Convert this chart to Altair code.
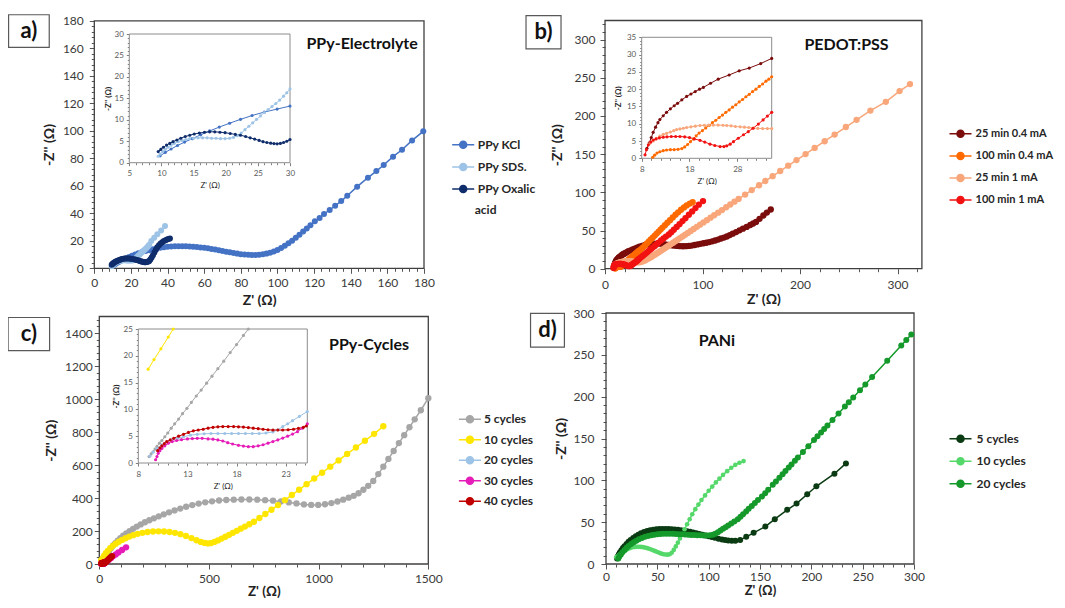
import altair as alt
import pandas as pd

# ---------------------------------------------------------------- data
# every list holds (Z', -Z'') pairs in ohm

# a) PPy-Electrolyte
PPY_KCL = [(9.8, 1.6), (10.6, 2.4), (11.5, 3.2), (12.5, 4.0), (13.6, 4.8), (14.8, 5.6), (16.1, 6.5),
           (17.5, 7.4), (19.0, 8.3), (20.6, 9.2), (22.3, 10.1), (24.1, 11.0), (26.0, 11.8), (28.0, 12.5),
           (30.0, 13.2), (32, 13.9), (34, 14.5), (36, 15.0), (38, 15.4), (40, 15.7), (42, 15.9), (44, 16.0),
           (46, 16.1), (48, 16.1), (50, 16.0), (52, 15.9), (54, 15.7), (56, 15.5), (58, 15.2), (60, 14.9),
           (62, 14.5), (64, 14.1), (66, 13.6), (68, 13.1), (70, 12.6), (72, 12.1), (74, 11.6), (76, 11.1),
           (78, 10.7), (80, 10.3), (82, 10.0), (84, 9.8), (86, 9.7), (88, 9.7), (90, 9.9), (92, 10.2),
           (94, 10.7), (96, 11.4), (98, 12.3), (100, 13.4), (102, 14.8), (104, 16.4), (106, 18.2),
           (108, 20.1), (110, 22.2), (112, 24.4), (114, 26.7), (116, 29.0), (118, 31.4), (120.4, 34.2),
           (123, 36.6), (125.4, 39.5), (128.5, 42.4), (131.5, 45.5), (134.8, 48.9), (138.1, 52.8),
           (143.5, 59.4), (149.4, 65.9), (154, 70.7), (158, 75.1), (163.1, 81.2), (168, 86.2),
           (173.5, 93.0), (179.6, 99.6)]
PPY_SDS = [(9.5, 1.5), (9.8, 2.0), (10.2, 2.6), (10.6, 3.1), (11.0, 3.6), (11.5, 4.1), (12.0, 4.5),
           (12.6, 4.9), (13.2, 5.2), (13.8, 5.4), (14.4, 5.6), (15.0, 5.7), (15.7, 5.8), (16.4, 5.8),
           (17.1, 5.8), (17.8, 5.7), (18.5, 5.7), (19.2, 5.6), (19.9, 5.6), (20.6, 5.7), (21.2, 5.9),
           (21.8, 6.3), (22.4, 6.9), (23.0, 7.7), (23.6, 8.5), (24.2, 9.3), (24.8, 10.1), (25.4, 10.9),
           (26.0, 11.7), (26.6, 12.4), (27.2, 13.1), (27.8, 13.8), (28.4, 14.6), (29.0, 15.5),
           (29.5, 16.3), (30.0, 17.2), (31.1, 19.8), (32.7, 22.2), (34.4, 24.7), (36.5, 27.5), (38.6, 30.8)]
PPY_OXALIC = [(9.5, 2.6), (9.9, 3.1), (10.3, 3.6), (10.8, 4.1), (11.3, 4.5), (11.8, 4.9), (12.4, 5.3),
              (13.0, 5.7), (13.7, 6.1), (14.4, 6.4), (15.1, 6.7), (15.9, 6.9), (16.7, 7.1), (17.5, 7.2),
              (18.3, 7.2), (19.1, 7.1), (19.9, 7.0), (20.7, 6.8), (21.5, 6.6), (22.3, 6.4), (23.1, 6.1),
              (23.8, 5.8), (24.5, 5.5), (25.2, 5.2), (25.8, 4.9), (26.4, 4.7), (27.0, 4.55), (27.5, 4.45),
              (28.0, 4.4), (28.5, 4.5), (29.0, 4.7), (29.5, 5.0), (30.0, 5.4), (30.6, 6.4), (31.3, 7.8),
              (32.0, 9.5), (32.8, 11.5), (33.6, 13.5), (34.4, 15.3), (35.3, 16.8), (36.2, 18.0),
              (37.1, 19.0), (38.0, 19.8), (38.9, 20.4), (39.7, 20.9), (40.5, 21.3), (41.3, 21.6)]

# b) PEDOT:PSS
PEDOT_25MIN_04 = [(9.1, 2.9), (9.6, 4.5), (10.0, 6.0), (10.4, 7.5), (10.9, 9.0), (11.4, 10.3), (11.8, 11.2),
                  (12.5, 12.3), (13.2, 13.3), (14.0, 14.3), (14.8, 15.2), (15.5, 15.9), (16.4, 16.9),
                  (17.4, 17.9), (18.3, 18.6), (19.2, 19.3), (20.1, 20.0), (20.9, 20.5), (22.4, 21.7),
                  (24.0, 22.9), (26.3, 24.1), (28.4, 25.3), (30.5, 26.1), (32.9, 27.4), (35.2, 28.9),
                  (38, 30.0), (41, 31.0), (44, 31.8), (47, 32.4), (50, 32.8), (53, 32.9), (56, 32.8),
                  (59, 32.4), (62, 31.9), (65, 31.3), (68, 30.7), (71, 30.2), (74, 29.8), (77, 29.5),
                  (80, 29.4), (83, 29.5), (86, 29.8), (89, 30.3), (92, 31.0), (95, 31.8), (98, 32.6),
                  (101, 33.3), (104, 34.0), (107, 34.9), (110, 35.8), (113, 36.9), (116, 38.1), (119, 39.5),
                  (122, 40.8), (125, 42.2), (128, 44.0), (131, 45.9), (134.5, 48.0), (138, 50.2),
                  (141.5, 52.4), (145.3, 54.7), (149, 57.2), (152, 59.2), (154.9, 61.3), (158.5, 65.3),
                  (162.4, 69.7), (166, 73.5), (170, 77.5)]
PEDOT_100MIN_04 = [(10.3, 0.3), (10.7, 0.9), (11.2, 1.5), (11.8, 1.9), (12.5, 2.2), (13.2, 2.4), (14.0, 2.5),
                   (14.8, 2.5), (15.6, 2.6), (16.4, 2.8), (17.0, 3.3), (17.6, 4.0), (18.2, 4.8), (18.8, 5.6),
                   (19.4, 6.5), (20.0, 7.3), (20.7, 8.0), (21.4, 8.8), (22.1, 9.5), (22.8, 10.3), (23.5, 11.0),
                   (24.2, 11.8), (24.9, 12.5), (25.6, 13.3), (26.3, 14.0), (27.0, 14.8), (27.7, 15.5),
                   (28.4, 16.3), (29.1, 17.0), (29.8, 17.8), (30.5, 18.5), (31.2, 19.3), (31.9, 20.0),
                   (32.6, 20.8), (33.3, 21.5), (34.0, 22.3), (34.6, 22.9), (35.2, 23.6), (37, 25.6),
                   (39, 28.0), (41, 30.5), (43, 33.0), (45, 35.6), (47, 38.2), (49, 40.8), (51, 43.4),
                   (53, 46.0), (55, 48.6), (57, 51.2), (59, 53.8), (61.5, 57.0), (64, 60.2), (66.7, 63.6),
                   (69.5, 67.1), (72.3, 70.6), (75, 73.8), (78, 77.2), (81, 80.3), (83.8, 82.9), (87, 85.3),
                   (89.9, 87.0)]
PEDOT_25MIN_1 = [(9.7, 4.3), (10.4, 5.0), (11.1, 5.8), (11.8, 6.4), (12.5, 6.9), (13.2, 7.2), (14.0, 7.6),
                 (14.7, 8.0), (15.3, 8.3), (16.0, 8.5), (16.7, 8.7), (17.4, 8.9), (18.3, 9.1), (19.2, 9.3),
                 (20.2, 9.5), (21.1, 9.55), (22.0, 9.6), (23.0, 9.6), (24.0, 9.6), (25.0, 9.55), (25.8, 9.5),
                 (26.7, 9.4), (27.6, 9.2), (28.6, 9.1), (29.5, 9.0), (30.4, 8.9), (31.3, 8.75), (32.3, 8.65),
                 (33.3, 8.6), (34.3, 8.6), (35.2, 8.6), (36.5, 8.8), (38, 9.3), (39.5, 10.0), (41, 10.9),
                 (42.5, 11.9), (44, 12.9), (45.5, 14.0), (47, 15.1), (48.5, 16.3), (50, 17.5), (51.5, 18.7),
                 (53, 19.9), (54.6, 21.2), (56.2, 22.5), (58, 24.0), (59.8, 25.5), (61.7, 27.1), (63.6, 28.7),
                 (65.6, 30.4), (67.7, 32.2), (69.9, 34.0), (72.2, 36.0), (74.6, 38.0), (77, 40.1),
                 (79.6, 42.3), (82.2, 44.5), (85, 46.9), (88, 49.5), (91, 52.1), (94.2, 54.8), (97.5, 57.6),
                 (101, 60.6), (104.5, 63.6), (108.2, 66.8), (112, 70.0), (116, 73.4), (120, 76.8),
                 (124.3, 80.5), (128.5, 84.1), (132.8, 87.8), (137, 91.4), (143.7, 97.1), (150.5, 102.9),
                 (158, 109.3), (164.4, 114.8), (171.9, 121.2), (179.7, 127.9), (187.9, 134.9),
                 (196.4, 142.2), (205.7, 150.1), (215, 158.1), (225.3, 166.9), (235.5, 175.6),
                 (247, 185.5), (258, 194.9), (272.2, 207.0), (288, 218.5), (302.1, 232.6), (312.8, 241.7)]
PEDOT_100MIN_1 = [(8.7, 1.0), (9.0, 2.5), (9.4, 3.9), (9.9, 4.7), (10.4, 5.3), (11.0, 5.6), (11.7, 5.9),
                  (12.5, 6.1), (13.3, 6.2), (14.2, 6.3), (15.1, 6.3), (16.0, 6.3), (17.0, 6.2), (18.0, 6.0),
                  (19.0, 5.6), (20.2, 5.2), (21.2, 4.7), (22.3, 4.1), (23.3, 3.7), (24.4, 3.4), (25.2, 3.4),
                  (25.8, 3.6), (26.5, 4.1), (27.2, 4.8), (28.2, 5.8), (29.3, 6.8), (30.3, 7.7), (31.3, 8.7),
                  (32.4, 9.9), (33.4, 11.1), (34.3, 12.2), (35.2, 13.3), (37, 15.1), (39, 17.1), (41, 19.2),
                  (43, 21.3), (45, 23.4), (47, 25.5), (49, 27.6), (51, 29.8), (53, 32.0), (55, 34.2),
                  (57.5, 36.9), (60, 39.5), (62.5, 42.0), (65.5, 44.8), (68, 47.7), (70.6, 51.0),
                  (73.5, 54.7), (76.4, 58.3), (79.5, 62.3), (82.5, 66.2), (86, 70.6), (89.4, 75.0),
                  (92.8, 79.4), (96.2, 83.8), (100.5, 88.5)]

# c) PPy-Cycles
CYC5 = [(9.1, 1.2), (9.3, 1.7), (9.5, 2.1), (9.7, 2.6), (9.9, 3.1), (10.15, 3.7), (10.4, 4.2), (10.7, 4.9),
        (11.0, 5.6), (11.35, 6.5), (11.7, 7.3), (12.1, 8.2), (12.5, 9.2), (12.95, 10.2), (13.4, 11.3),
        (13.9, 12.5), (14.4, 13.6), (14.95, 14.9), (15.5, 16.2), (16.1, 17.6), (16.7, 19.0), (17.35, 20.6),
        (18.0, 22.1), (18.7, 23.8), (19.2, 25.0), (24, 36), (30, 50), (37, 64), (45, 80), (54, 97),
        (63, 112), (73, 127), (84, 142), (96, 157), (109, 171), (123, 185), (138, 199), (154, 213),
        (171, 227), (189, 240), (208, 253), (228, 265), (249, 277), (271, 289), (294, 301), (318, 313),
        (343, 325), (369, 336), (396, 347), (424, 357), (453, 366), (483, 374), (514, 380), (546, 385),
        (579, 388), (613, 390), (648, 391), (684, 391), (720, 390), (756, 387), (792, 384), (828, 379),
        (864, 373), (899, 367), (933, 361), (966, 358), (998, 358), (1029, 362), (1058, 369), (1086, 379),
        (1112, 390), (1137, 402), (1160, 413), (1182, 429), (1204, 450), (1226, 474), (1249, 503),
        (1272, 545), (1295, 590), (1318, 637), (1342, 685), (1366, 733), (1390, 781), (1414, 829),
        (1438, 877), (1466, 932), (1500, 1005)]
CYC10 = [(9.0, 17.5), (9.6, 19.3), (10.3, 21.3), (11.05, 23.5), (11.55, 25.0), (16, 36), (22, 50), (30, 65),
         (39, 80), (50, 96), (62, 110), (75, 123), (89, 135), (104, 146), (120, 156), (137, 166), (155, 175),
         (175, 183), (197, 189), (220, 194), (245, 197), (270, 198), (295, 197), (320, 194), (345, 189),
         (370, 181), (395, 170), (420, 157), (443, 144), (463, 134), (480, 128), (496, 125), (510, 127),
         (525, 134), (541, 143), (558, 154), (575, 165), (592, 177), (609, 189), (627, 201), (645, 214),
         (664, 227), (684, 241), (705, 256), (730, 279), (757, 303), (785, 329), (815, 357), (846, 387),
         (878, 418), (911, 450), (945, 484), (980, 518), (1016, 553), (1053, 590), (1091, 628),
         (1130, 667), (1170, 706), (1211, 747), (1253, 789), (1295, 835)]
CYC20 = [(9.2, 1.3), (9.5, 2.0), (9.9, 2.7), (10.4, 3.4), (10.9, 4.0), (11.4, 4.3), (12.0, 4.6), (12.6, 4.9),
         (13.3, 5.2), (14.0, 5.35), (14.7, 5.45), (15.4, 5.5), (16.1, 5.5), (16.8, 5.5), (17.5, 5.5),
         (18.2, 5.5), (18.9, 5.5), (19.6, 5.5), (20.3, 5.5), (21.0, 5.6), (21.7, 5.8), (22.2, 6.2),
         (22.7, 6.8), (23.2, 7.3), (23.7, 7.9), (24.4, 8.7), (25.2, 9.6), (27, 11.8), (30, 15.2)]
CYC30 = [(9.76, 0.6), (9.9, 1.2), (10.03, 1.8), (10.2, 2.3), (10.4, 2.7), (10.7, 3.2), (11.05, 3.7),
         (11.45, 4.0), (11.9, 4.2), (12.4, 4.35), (13.0, 4.5), (13.5, 4.55), (14.0, 4.6), (14.5, 4.6),
         (15.1, 4.5), (15.6, 4.45), (16.1, 4.3), (16.6, 4.1), (17.1, 3.8), (17.6, 3.55), (18.2, 3.3),
         (18.7, 3.15), (19.2, 3.05), (19.7, 3.05), (20.2, 3.2), (20.7, 3.4), (21.2, 3.7), (21.7, 4.0),
         (22.2, 4.3), (22.7, 4.65), (23.2, 5.0), (23.7, 5.4), (24.2, 5.85), (24.7, 6.5), (25.2, 7.3),
         (27, 9), (30, 12), (34, 16), (39, 21), (45, 27), (54, 37), (64, 48), (75, 58), (87, 70),
         (104, 85), (122, 101)]
CYC40 = [(9.97, 2.3), (10.2, 2.8), (10.4, 3.2), (10.65, 3.6), (10.9, 4.0), (11.25, 4.3), (11.6, 4.6),
         (12.1, 5.0), (12.6, 5.35), (13.1, 5.7), (13.6, 6.0), (14.1, 6.15), (14.6, 6.3), (15.1, 6.5),
         (15.6, 6.65), (16.1, 6.75), (16.6, 6.8), (17.15, 6.8), (17.7, 6.8), (18.2, 6.75), (18.7, 6.7),
         (19.2, 6.6), (19.7, 6.5), (20.2, 6.4), (20.7, 6.3), (21.2, 6.2), (21.7, 6.15), (22.2, 6.15),
         (22.7, 6.15), (23.25, 6.2), (23.8, 6.3), (24.3, 6.45), (24.8, 6.65), (25.1, 6.9), (27, 8.5),
         (30, 12), (34, 17), (39, 24), (45, 32), (51, 40), (58, 48)]

# d) PANi
PANI5 = [(10.8, 6.7), (11.5, 9.0), (12.5, 11.5), (13.5, 13.8), (15, 16.5), (16.5, 19.0), (18, 21.3), (20, 24.0),
         (22, 26.5), (24, 28.8), (26.5, 31.2), (29, 33.3), (31.5, 35.1), (34, 36.7), (37, 38.2), (40, 39.4),
         (43, 40.3), (46, 41.0), (49, 41.5), (52, 41.8), (55, 41.9), (58, 41.9), (61, 41.8), (64, 41.6),
         (67, 41.3), (70, 40.9), (73, 40.4), (76, 39.8), (79, 39.2), (82, 38.5), (85, 37.7), (88, 36.9),
         (91, 36.0), (94, 35.1), (97, 34.2), (100, 33.3), (103, 32.3), (106, 31.3), (109.5, 30.2),
         (113, 29.3), (116, 28.6), (119, 28.1), (122.5, 27.8), (126, 27.8), (130.7, 28.8), (136.6, 32.5),
         (143.8, 37.3), (155.2, 44.8), (164.4, 53.6), (176.5, 64.7), (185.6, 72.2), (196, 83.3),
         (204.9, 92.9), (222.5, 107.9), (233.7, 120.2)]
PANI10 = [(10, 8.0), (11, 9.0), (12.5, 10.5), (14, 12.0), (15.5, 13.4), (17, 14.7), (18.5, 15.9), (20, 17.0),
          (22, 18.3), (24, 19.3), (26, 20.0), (28, 20.4), (30, 20.6), (32, 20.6), (34, 20.4), (36, 20.1),
          (38, 19.6), (40, 19.0), (42, 18.2), (44, 17.3), (46, 16.3), (48, 15.3), (50, 14.3), (52, 13.3),
          (54, 12.4), (56, 11.7), (58, 11.3), (60, 11.2), (62, 11.6), (64, 13.5), (66, 16.8), (68, 21.0),
          (70, 25.5), (72, 30.5), (74, 35.5), (76.5, 41.5), (79, 47.5), (81.5, 53.5), (84, 59.5),
          (87, 65.5), (90, 71.0), (93, 76.5), (96.5, 82.0), (100, 87.5), (103.5, 92.5), (107, 97.5),
          (110.5, 102.0), (114, 106.5), (118, 111.0), (122, 115.0), (126, 118.5), (130, 121.0), (134, 123.0)]
PANI20 = [(12, 6.5), (13, 9.0), (14.5, 11.5), (16, 14.0), (18, 16.8), (20, 19.3), (22, 21.6), (24.5, 24.0),
          (27, 26.0), (29.5, 27.9), (32, 29.6), (35, 31.2), (38, 32.5), (41, 33.6), (44, 34.5), (47, 35.1),
          (50, 35.6), (53, 35.9), (56, 36.1), (59, 36.2), (62, 36.2), (65, 36.1), (68, 35.9), (71, 35.7),
          (74, 35.5), (77, 35.2), (80, 35.0), (83, 34.8), (86, 34.6), (89, 34.4), (92, 34.3), (95, 34.2),
          (98, 34.2), (101, 34.4), (104, 35.0), (106.5, 36.3), (109, 38.0), (111.5, 39.9), (114, 42.0),
          (116.5, 44.0), (119, 46.0), (122, 48.3), (125, 50.8), (128.4, 53.6), (131, 56.4), (133.5, 59.4),
          (136.5, 62.6), (139, 65.9), (142, 69.3), (145, 72.8), (148, 76.4), (151.9, 80.6), (155, 84.7),
          (158, 88.7), (162.4, 94.6), (165.5, 98.7), (168.9, 103.2), (172, 107.4), (174.8, 111.1),
          (178, 115.4), (180.7, 119.0), (184, 123.4), (186.9, 127.2), (191.8, 133.8), (197.1, 140.8),
          (202.6, 148.1), (206, 152.6), (209.5, 157.3), (212.5, 161.3), (215.7, 165.5), (220.6, 172.1),
          (226.5, 179.9), (232.7, 188.2), (236.5, 193.2), (240.8, 198.9), (247.4, 207.7), (252.6, 214.6),
          (259.2, 223.4), (273.9, 243.0), (287.6, 261.2), (292.5, 267.7), (297.4, 274.2)]

A_NAMES = ["PPy KCl", "PPy SDS.", "PPy Oxalic acid"]
A_COLORS = ["#4472C4", "#9DC3E6", "#0F2C6B"]
B_NAMES = ["25 min 0.4 mA", "100 min 0.4 mA", "25 min 1 mA", "100 min 1 mA"]
B_COLORS = ["#7B0C0C", "#FF6A00", "#F8A67A", "#F21212"]
C_NAMES = ["5 cycles", "10 cycles", "20 cycles", "30 cycles", "40 cycles"]
C_COLORS = ["#A6A6A6", "#FFE600", "#9DC3E6", "#E61CB8", "#C00000"]
D_NAMES = ["5 cycles", "10 cycles", "20  cycles"]
D_COLORS = ["#0B3B12", "#55D86A", "#14992A"]

# ---------------------------------------------------------------- layout
W, H = 1049, 592
FONT = "Lato"
SYMBOL = "M-1,0L1,0M0.32,0A0.32,0.32,0,1,1,-0.32,0A0.32,0.32,0,1,1,0.32,0Z"


def series_df(names, arrays):
    rows = []
    for name, pts in zip(names, arrays):
        for i, (x, y) in enumerate(pts):
            rows.append({"s": name, "i": i, "x": x, "y": y})
    return pd.DataFrame(rows)


def make_axis(orient, offset, values, test, title, *, lsize, lpad, tsize, tweight, tpad,
              tmaj, tmin, lcolor, tcolor):
    return alt.Axis(
        orient=orient, offset=offset, values=values, title=title, format="d",
        labelExpr=f"({test}) ? datum.label : ''",
        tickSize={"condition": {"test": test, "value": tmaj}, "value": tmin},
        tickColor=tcolor, tickWidth=1, domain=False, grid=False,
        labelFlush=False, labelOverlap=False, labelFont=FONT, labelFontSize=lsize,
        labelColor=lcolor, labelPadding=lpad, titleFont=FONT, titleFontSize=tsize,
        titleFontWeight=tweight, titleColor="#222222", titlePadding=tpad,
    )


def main_axes(g, xv, xt, yv, yt, xlpad, ylpad, xtpad, ytpad, xtsize=14):
    ax = make_axis("bottom", g["yr"][0] - H, xv, xt, "Z' (Ω)", lsize=12, lpad=xlpad, tsize=xtsize,
                   tweight="bold", tpad=xtpad, tmaj=5, tmin=3, lcolor="#3a3a3a", tcolor="#555555")
    ay = make_axis("left", -g["xr"][0], yv, yt, "-Z'' (Ω)", lsize=12, lpad=ylpad, tsize=14,
                   tweight="bold", tpad=ytpad, tmaj=5, tmin=3, lcolor="#3a3a3a", tcolor="#555555")
    return ax, ay


def inset_axes(g, xv, xt, yv, yt, ytpad):
    ax = make_axis("bottom", g["yr"][0] - H, xv, xt, "Z' (Ω)", lsize=8, lpad=4, tsize=8,
                   tweight="normal", tpad=4, tmaj=3, tmin=2, lcolor="#595959", tcolor="#7f7f7f")
    ay = make_axis("left", -g["xr"][0], yv, yt, "-Z'' (Ω)", lsize=8, lpad=3, tsize=8,
                   tweight="bold", tpad=ytpad, tmaj=3, tmin=2, lcolor="#595959", tcolor="#7f7f7f")
    return ax, ay


def make_legend(lx, ly, rowpad, loff, fsize=12, expr=None):
    kw = dict(title=None, orient="none", legendX=lx, legendY=ly, direction="vertical",
              symbolType=SYMBOL, symbolSize=484, symbolStrokeWidth=1.5, symbolOpacity=1,
              symbolFillColor="transparent", symbolStrokeColor="transparent",
              labelFont=FONT, labelFontSize=fsize, labelFontWeight="bold", labelColor="#262626",
              labelOffset=loff, rowPadding=rowpad, padding=0, offset=0, labelLimit=300)
    if expr:
        kw["labelExpr"] = expr
    return alt.Legend(**kw)


def enc_xy(g, ax, ay):
    x = alt.X("x:Q", scale=alt.Scale(domain=g["x"], range=g["xr"], nice=False, zero=False), axis=ax)
    y = alt.Y("y:Q", scale=alt.Scale(domain=g["y"], range=g["yr"], nice=False, zero=False), axis=ay)
    return x, y


def group(df, g, ax, ay, cscale, legend, pt_size, line_w, frame_style, extra=(), small=None):
    x, y = enc_xy(g, ax, ay)
    frame = alt.Chart(pd.DataFrame({"x": [g["x"][0]], "x2": [g["x"][1]],
                                    "y": [g["y"][0]], "y2": [g["y"][1]]})).mark_rect(**frame_style).encode(
        x=x, x2="x2:Q", y=y, y2="y2:Q")
    lines = alt.Chart(df).mark_line(strokeWidth=line_w).encode(
        x=x, y=y, stroke=alt.Stroke("s:N", scale=cscale, legend=legend), order="i:Q")
    if small is not None:
        size = alt.when(alt.datum.s == small).then(alt.value(pt_size * 0.6)).otherwise(alt.value(pt_size))
    else:
        size = alt.value(pt_size)
    pts = alt.Chart(df).mark_circle(opacity=1).encode(
        x=x, y=y, fill=alt.Fill("s:N", scale=cscale, legend=legend), size=size)
    layers = [frame, lines, pts]
    for ann_df, mark in extra:
        if mark == "box":
            layers.append(alt.Chart(ann_df).mark_rect(fill="white", stroke="#595959", strokeWidth=1.2).encode(
                x=x, x2="x2:Q", y=y, y2="y2:Q"))
        else:
            layers.append(alt.Chart(ann_df).mark_text(**mark).encode(x=x, y=y, text="t:N"))
    return alt.layer(*layers)


def inset_data(df, g):
    return df[(df.x >= g["x"][0]) & (df.x <= g["x"][1]) & (df.y <= g["y"][1])]


MAIN_FRAME = dict(fill="transparent", stroke="#404040", strokeWidth=1.3)
INSET_FRAME = dict(fill="white", stroke="#8c8c8c", strokeWidth=1)
LETTER = dict(font=FONT, fontSize=22, fontWeight="bold", color="#111111", align="center", baseline="middle")
TITLE = dict(font=FONT, fontSize=16, fontWeight="bold", color="#111111", align="center", baseline="middle")
ACID = dict(font=FONT, fontSize=12, fontWeight="bold", color="#262626", align="left", baseline="middle")


def ann(box, letter, title, ltxt):
    bdf = pd.DataFrame({"x": [box[0]], "x2": [box[1]], "y": [box[2]], "y2": [box[3]]})
    ldf = pd.DataFrame({"x": [letter[0]], "y": [letter[1]], "t": [ltxt]})
    tdf = pd.DataFrame({"x": [title[0]], "y": [title[1]], "t": [title[2]]})
    return [(bdf, "box"), (ldf, LETTER), (tdf, TITLE)]


# geometry of each plotting area (pixel ranges inside the 1049x592 view)
GA = dict(x=[0, 180], xr=[86.3, 416.0], y=[0, 180], yr=[260.3, 12.8])
GA_IN = dict(x=[5, 30], xr=[121.3, 282.0], y=[0, 30], yr=[154.7, 26.0])
GB = dict(x=[0, 325], xr=[597.0, 913.9], y=[0, 325], yr=[260.7, 12.5])
GB_IN = dict(x=[8, 35.2], xr=[633.7, 763.7], y=[0, 35], yr=[150.3, 29.3])
GC = dict(x=[0, 1500], xr=[91.3, 420.3], y=[0, 1500], yr=[556.0, 308.5])
GC_IN = dict(x=[8, 25.2], xr=[130.3, 299.3], y=[0, 25], yr=[455.0, 321.0])
GD = dict(x=[0, 300], xr=[598.0, 906.0], y=[0, 300], yr=[556.0, 305.0])

# ---------------------------------------------------------------- panel a
dfa = series_df(A_NAMES, [PPY_KCL, PPY_SDS, PPY_OXALIC])
csa = alt.Scale(domain=A_NAMES, range=A_COLORS)
lega = make_legend(443.2, 124.7, 3.2, 2.5,
                   expr="datum.label == 'PPy Oxalic acid' ? 'PPy Oxalic' : datum.label")
axa, aya = main_axes(GA, list(range(0, 181, 4)), "datum.value % 20 == 0",
                     list(range(0, 181, 4)), "datum.value % 20 == 0", 4.5, 6, 5, 6)
extra_a = ann((-46.8, -24.6, 160.7, 184.4), (-35.7, 172.5), (146.2, 163.1, "PPy-Electrolyte"), "a)")
extra_a.append((pd.DataFrame({"x": [207.7], "y": [42.4], "t": ["acid"]}), ACID))
main_a = group(dfa, GA, axa, aya, csa, lega, 36, 1.5, MAIN_FRAME, extra_a)
iax, iay = inset_axes(GA_IN, list(range(5, 31)), "datum.value % 5 == 0",
                      list(range(0, 31)), "datum.value % 5 == 0", 2)
ins_a = group(inset_data(dfa, GA_IN), GA_IN, iax, iay, csa, lega, 10, 1, INSET_FRAME)
panel_a = alt.layer(main_a, ins_a).resolve_scale(x="independent", y="independent")

# ---------------------------------------------------------------- panel b
dfb = series_df(B_NAMES, [PEDOT_25MIN_04, PEDOT_100MIN_04, PEDOT_25MIN_1, PEDOT_100MIN_1])
csb = alt.Scale(domain=B_NAMES, range=B_COLORS)
legb = make_legend(940.5, 113.8, 3.1, 3, fsize=11)
axb, ayb = main_axes(GB, list(range(0, 321, 20)), "datum.value % 100 == 0",
                     list(range(0, 321, 10)), "datum.value % 50 == 0", 5.5, 5, 2, 10)
extra_b = ann((-81, -45.1, 287.8, 331.4), (-63, 309.6), (247.7, 292.9, "PEDOT:PSS"), "b)")
main_b = group(dfb, GB, axb, ayb, csb, legb, 40, 1.5, MAIN_FRAME, extra_b)
iax, iay = inset_axes(GB_IN, list(range(8, 36, 2)), "(datum.value - 8) % 10 == 0",
                      list(range(0, 36)), "datum.value % 5 == 0", 4)
ins_b = group(inset_data(dfb, GB_IN), GB_IN, iax, iay, csb, legb, 10, 1, INSET_FRAME)
panel_b = alt.layer(main_b, ins_b).resolve_scale(x="independent", y="independent")

# ---------------------------------------------------------------- panel c
dfc = series_df(C_NAMES, [CYC5, CYC10, CYC20, CYC30, CYC40])
csc = alt.Scale(domain=C_NAMES, range=C_COLORS)
legc = make_legend(449.9, 399.3, 1.5, 2)
axc, ayc = main_axes(GC, list(range(0, 1501, 100)), "datum.value % 500 == 0",
                     list(range(0, 1501, 40)), "datum.value % 200 == 0", 4, 2, 0, 6, xtsize=13.5)
extra_c = ann((-415.8, -226.6, 1293, 1494), (-321, 1393.5), (1229.7, 1327.9, "PPy-Cycles"), "c)")
main_c = group(dfc, GC, axc, ayc, csc, legc, 40, 1.5, MAIN_FRAME, extra_c)
iax, iay = inset_axes(GC_IN, list(range(8, 26)), "(datum.value - 8) % 5 == 0",
                      list(range(0, 26)), "datum.value % 5 == 0", 3)
ins_c = group(inset_data(dfc, GC_IN), GC_IN, iax, iay, csc, legc, 10, 1, INSET_FRAME)
panel_c = alt.layer(main_c, ins_c).resolve_scale(x="independent", y="independent")

# ---------------------------------------------------------------- panel d
dfd = series_df(D_NAMES, [PANI5, PANI10, PANI20])
csd = alt.Scale(domain=D_NAMES, range=D_COLORS)
legd = make_legend(940.5, 418.7, 3.5, 4)
axd, ayd = main_axes(GD, list(range(0, 301, 10)), "datum.value % 50 == 0",
                     list(range(0, 301, 10)), "datum.value % 50 == 0", 2, 7, 2.5, 5, xtsize=13)
extra_d = ann((-73.5, -40.5, 259.1, 299.6), (-57, 279.4), (108, 266.7, "PANi"), "d)")
panel_d = group(dfd, GD, axd, ayd, csd, legd, 36, 1.5, MAIN_FRAME, extra_d, small="10 cycles")

chart = alt.layer(panel_a, panel_b, panel_c, panel_d).resolve_scale(
    x="independent", y="independent", fill="independent", stroke="independent"
).properties(width=W, height=H, autosize="none", padding=0, background="white"
).configure_view(strokeWidth=0)

chart.save("out.html", embed_options={"renderer": "svg", "actions": False})
